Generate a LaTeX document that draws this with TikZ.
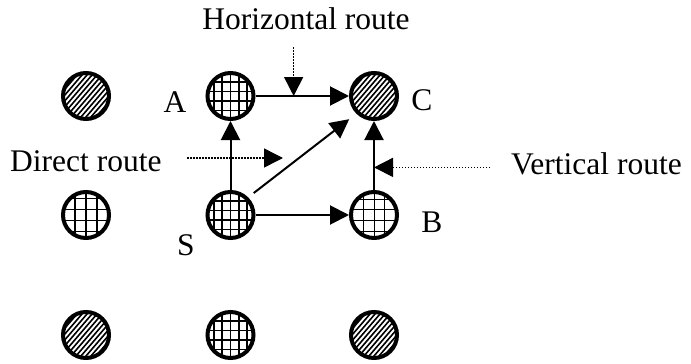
\documentclass[tikz,border=0pt]{standalone}
\usepackage{fontspec}
\setmainfont{Liberation Serif}
\usetikzlibrary{arrows.meta,calc}
\begin{document}
\begin{tikzpicture}[x=1pt,y=-1pt,
  site/.style={circle,draw,line width=4pt,minimum size=46pt,inner sep=0pt,fill=white},
  hatched/.style={site,path picture={
      \foreach \k in {-72,-67,...,12}
        \draw[line width=1.6pt] ([shift={(\k pt,-35pt)}]path picture bounding box.center) -- ++(60pt,70pt);}},
  gridded/.style n args={3}{site,path picture={
      \foreach \k in {-4,...,4}{
        \draw[line width=#3] ([shift={({\k*#1},-30pt)}]path picture bounding box.center) -- ++(0pt,60pt);
        \draw[line width=#3] ([shift={(-30pt,{(\k+0.5)*#2})}]path picture bounding box.center) -- ++(60pt,0pt);}}},
  coarse/.style={gridded={8.3pt}{9.5pt}{1.5pt}},
  wide/.style={gridded={11pt}{11pt}{1.8pt}},
  fine/.style={gridded={10.7pt}{10.7pt}{0.9pt}},
  lbl/.style={inner sep=0pt,font=\fontsize{31.5}{37}\selectfont},
  route/.style={line width=2pt,-{Triangle[length=19pt,width=19pt]}},
  pointer/.style={line width=1.5pt,dash pattern=on 1.5pt off 1.5pt,-{Triangle[length=19pt,width=19pt]}}
]
\useasboundingbox (0,0) rectangle (691,364);

% grid of sites
\node[hatched] (n11) at (86,96) {};
\node[site,wide] (n21) at (86,215) {};
\node[hatched] (n31) at (86,335) {};
\node[site,coarse] (A) at (230.5,96) {};
\node[site,coarse] (S) at (230.5,215) {};
\node[site,coarse] (n32) at (230.5,335) {};
\node[hatched] (C) at (374,96) {};
\node[site,fine] (B) at (374,215) {};
\node[hatched] (n33) at (374,335) {};

% site labels
\node[lbl,anchor=base] (tA) at (175,112) {A};
\node[lbl,anchor=base] (tC) at (422,110) {C};
\node[lbl,anchor=base] (tS) at (186,255) {S};
\node[lbl,anchor=base] (tB) at (432,232) {B};

% route captions
\node[lbl,anchor=base] (tH) at (306,29) {Horizontal route};
\node[lbl,anchor=base west] (tD) at (10,171) {Direct route};
\node[lbl,anchor=base west] (tV) at (511,174) {Vertical route};

% routes
\draw[route] (A) -- (C);
\draw[route] (S) -- (A);
\draw[route] (S) -- (B);
\draw[route] (B) -- (C);
\draw[route,shorten <=7pt,shorten >=9pt] (S.45) -- (C.225);

% caption pointers
\coordinate (hrTip) at ($(A)!0.44!(C)$);
\coordinate (hrTail) at (0,47);
\draw[pointer] (hrTip |- hrTail) -- (hrTip);
\coordinate (drTail) at (187,158);
\coordinate (drTip) at (283,158);
\draw[pointer] (drTail) -- (drTip);
\coordinate (vrTip) at ($(B)!0.4!(C)$);
\coordinate (vrTail) at (490,0);
\draw[pointer] (vrTip -| vrTail) -- (vrTip);
\end{tikzpicture}
\end{document}
